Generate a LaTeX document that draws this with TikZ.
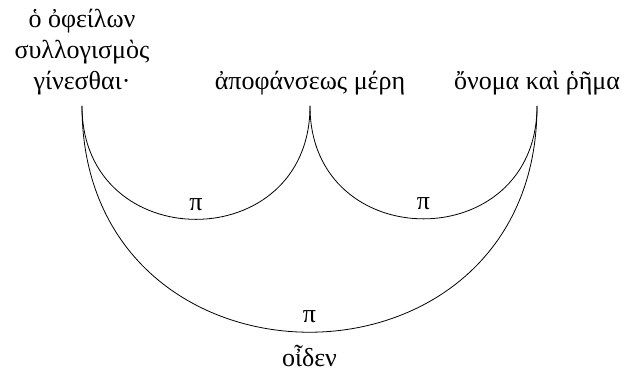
\documentclass[tikz,border=0pt]{standalone}
\usepackage{fontspec}
\setmainfont{Liberation Serif}
\usetikzlibrary{positioning}

\begin{document}
\begin{tikzpicture}[
    x=1pt,
    y=1pt,
    word/.style={
        align=center,
        anchor=south,
        inner sep=5pt,
        text depth=3pt,
        font=\fontsize{13}{15.5}\selectfont
    },
    dep/.style={
        out=-90,
        in=-90,
        looseness=1.7
    },
    rel/.style={
        midway,
        above=1pt,
        font=\fontsize{13}{15.5}\selectfont
    }
]
\useasboundingbox (0,0) rectangle (312,-189);

% Words
\node[word] (subj) at (41,-53) {ὁ ὀφείλων\\συλλογισμὸς\\γίνεσθαι·};
\node[word] (parts) at (155,-53) {ἀποφάνσεως μέρη};
\node[word] (names) at (268.5,-53) {ὄνομα καὶ ῥῆμα};

% Arcs
\draw (subj.south) to[dep] node[rel] {π} (parts.south);
\draw (parts.south) to[dep] node[rel] {π} (names.south);
\draw (subj.south) to[dep] node[rel] {π}
    node[midway, below=3pt, font=\fontsize{13}{15.5}\selectfont] (verb) {οἶδεν} (names.south);

\end{tikzpicture}
\end{document}
